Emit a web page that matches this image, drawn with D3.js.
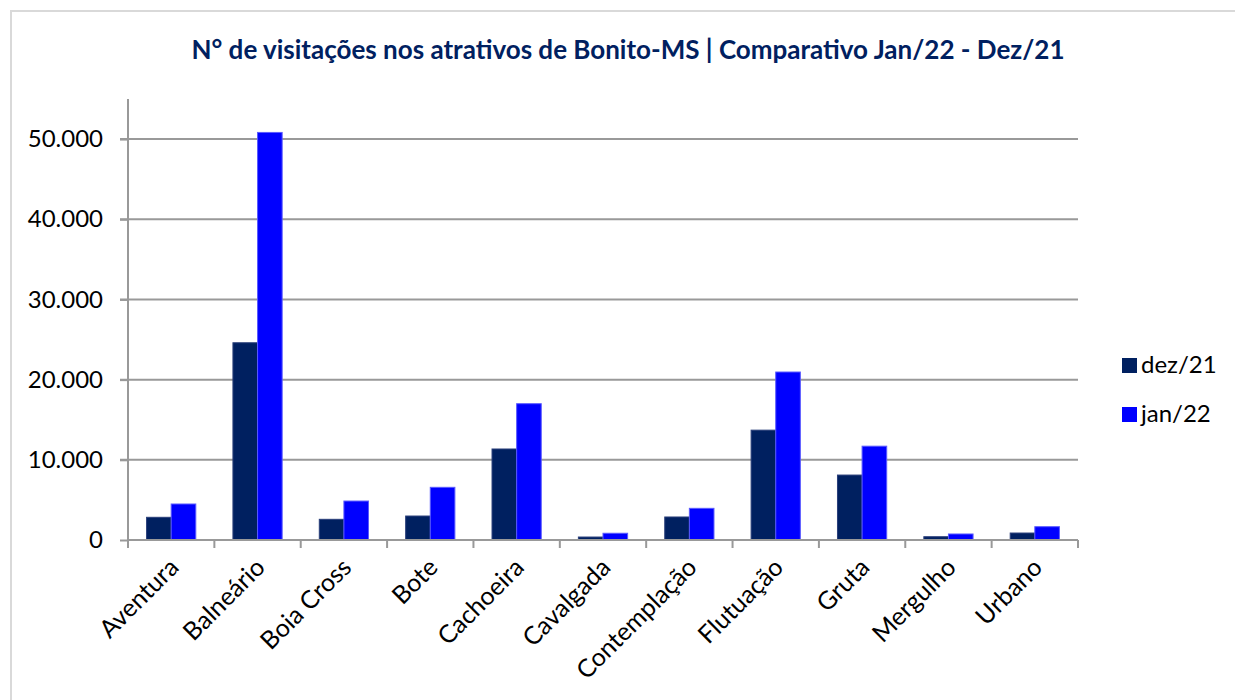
<!DOCTYPE html>
<html>
<head>
<meta charset="utf-8">
<script src="https://cdn.jsdelivr.net/npm/d3@7"></script>
<style>
  body { margin: 0; background: #fff; }
  svg { display: block; font-family: Lato, "Open Sans", sans-serif; }
</style>
</head>
<body>
<svg id="chart" width="1235" height="700"></svg>
<script>
const categories = ["Aventura", "Balneário", "Boia Cross", "Bote", "Cachoeira", "Cavalgada",
  "Contemplação", "Flutuação", "Gruta", "Mergulho", "Urbano"];
const dez21 = [2830, 24600, 2580, 2990, 11350, 370, 2870, 13700, 8100, 410, 870];
const jan22 = [4490, 50830, 4860, 6570, 17000, 840, 3950, 20950, 11700, 750, 1660];
const seriesNames = ["dez/21", "jan/22"];
const yTicks = [0, 10000, 20000, 30000, 40000, 50000];

const colors = ["#002060", "#0000ff"];
const strokes = ["#2a3f7a", "#5a5aff"];

const svg = d3.select("#chart");
const margin = { left: 128, right: 157, top: 99, bottom: 160 };
const width = 1235, height = 700;

// frame
svg.append("rect")
  .attr("x", 11).attr("y", 11)
  .attr("width", width).attr("height", height)
  .attr("fill", "none")
  .attr("stroke", "#d9d9d9")
  .attr("stroke-width", 2);

svg.append("text")
  .attr("x", 628).attr("y", 59)
  .attr("text-anchor", "middle")
  .attr("fill", "#002060")
  .attr("font-weight", "bold")
  .attr("font-size", 26)
  .text("N° de visitações nos atrativos de Bonito-MS | Comparativo Jan/22 - Dez/21");

const x = d3.scaleBand()
  .domain(categories)
  .range([margin.left, width - margin.right])
  .paddingInner(0.43).paddingOuter(0.215);

const band = d3.scaleBand()
  .domain(seriesNames)
  .range([0, x.bandwidth()]);

const y = d3.scaleLinear()
  .domain([0, 55000])
  .range([540, margin.top]);

const locale = d3.formatLocale({ decimal: ",", thousands: ".", grouping: [3], currency: ["R$", ""] });
const fmt = locale.format(",d");

// gridlines
svg.append("g")
  .selectAll("line")
  .data(yTicks.slice(1))
  .join("line")
  .attr("x1", margin.left - 8)
  .attr("x2", width - margin.right)
  .attr("y1", d => y(d)).attr("y2", d => y(d))
  .attr("stroke", "#999")
  .attr("stroke-width", 2);

// y axis
const yAxis = svg.append("g")
  .attr("transform", `translate(${margin.left},0)`)
  .call(d3.axisLeft(y).tickValues(yTicks).tickFormat(fmt).tickSize(8).tickPadding(17));
yAxis.select(".domain").attr("stroke", "#999").attr("stroke-width", 2).attr("d", `M0,${y(0)}V${margin.top}`);
yAxis.selectAll(".tick line").attr("stroke", "#999").attr("stroke-width", 2);
yAxis.selectAll(".tick text").attr("font-size", 24).attr("fill", "#000").attr("font-family", "Lato, sans-serif");

// bars
const groups = svg.append("g")
  .selectAll("g")
  .data(categories)
  .join("g")
  .attr("transform", d => `translate(${x(d)},0)`);

groups.selectAll("rect")
  .data((d, i) => [dez21[i], jan22[i]].map((v, s) => ({ s, v })))
  .join("rect")
  .attr("x", d => band(seriesNames[d.s]))
  .attr("width", band.bandwidth())
  .attr("y", d => y(d.v))
  .attr("height", d => y(0) - y(d.v))
  .attr("fill", d => colors[d.s])
  .attr("stroke", d => strokes[d.s])
  .attr("stroke-width", 1);

// x axis
const xAxis = svg.append("g")
  .attr("transform", `translate(0,${y(0)})`)
  .call(d3.axisBottom(x).tickSize(0).tickFormat(""));
xAxis.select(".domain").attr("stroke", "#999").attr("stroke-width", 2)
  .attr("d", `M${margin.left},0H${width - margin.right}`);

const step = x.step();
svg.append("g")
  .selectAll("line")
  .data(d3.range(categories.length + 1))
  .join("line")
  .attr("x1", i => margin.left + i * step)
  .attr("x2", i => margin.left + i * step)
  .attr("y1", y(0)).attr("y2", y(0) + 8)
  .attr("stroke", "#999")
  .attr("stroke-width", 2);

svg.append("g")
  .selectAll("text")
  .data(categories)
  .join("text")
  .attr("transform", d => `translate(${x(d) + x.bandwidth() / 2 + 9},${y(0) + 29}) rotate(-45)`)
  .attr("text-anchor", "end")
  .attr("font-size", 25)
  .attr("fill", "#000")
  .text(d => d);

// legend
const legend = svg.append("g")
  .selectAll("g")
  .data(seriesNames)
  .join("g")
  .attr("transform", (d, i) => `translate(1122,${358 + i * 49})`);
legend.append("rect")
  .attr("width", 15).attr("height", 15)
  .attr("fill", (d, i) => colors[i]);
legend.append("text")
  .attr("x", 19).attr("y", 15)
  .attr("font-size", 24)
  .attr("fill", "#000")
  .text(d => d);
</script>
</body>
</html>
